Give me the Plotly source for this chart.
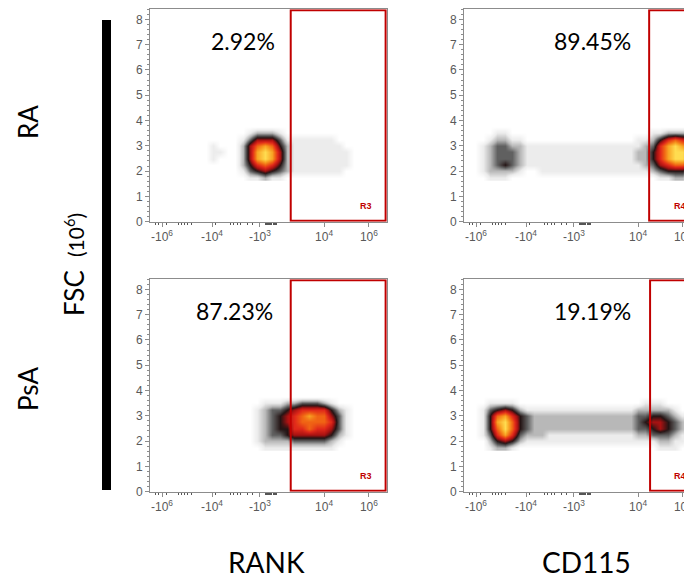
import plotly.graph_objects as go

# ---------------- data ----------------
FSC_ROWS = [1.75, 2.0, 2.25, 2.5, 2.75, 3.0, 3.25, 3.5, 3.75]
CH_BINS = [16, 48, 80, 112, 144, 176, 208, 240, 272, 304, 336, 368, 400, 432, 464, 496,
           528, 560, 592, 624, 656, 688, 720, 752, 784, 816, 848, 880, 912, 944, 976, 1008]

X_TICK_CH = [52, 268, 475, 752, 946]
X_TICK_TEXT = ["-10<sup>6</sup>", "-10<sup>4</sup>", "-10<sup>3</sup>", "10<sup>4</sup>", "10<sup>6</sup>"]
X_MINOR_CH = [22, 35, 73, 121, 138, 151, 164, 181, 281, 346, 359, 376, 389, 423, 441,
              497, 502, 507, 512, 517, 522, 527, 532, 537, 542, 547]
Y_TICKS = [0, 1, 2, 3, 4, 5, 6, 7, 8]

ROW_LABELS = ["RA", "PsA"]
COL_LABELS = ["RANK", "CD115"]
PERCENTS = ["2.92%", "89.45%", "87.23%", "19.19%"]
PERCENT_CH = [402, 557, 367, 557]
GATE_NAMES = ["R3", "R4", "R3", "R4"]
GATE_START_CH = [608, 800, 608, 804]

# density levels (0 = empty ... 9 = densest), rows = FSC_ROWS, cols = CH_BINS
DENSITY_RA_RANK = [
    [0,0,0,0,0,0,0,0,0,0, 0,0,0,1,1,2,1,1,0,0, 0,0,0,0,0,0,0,0,0,0, 0,0],
    [0,0,0,0,0,0,0,0,0,0, 0,0,1,3,4,5,4,3,2,1, 1,1,1,1,1,1,0,0,0,0, 0,0],
    [0,0,0,0,0,0,0,0,0,0, 0,0,2,4,6,7,6,4,2,1, 1,1,1,1,1,1,1,0,0,0, 0,0],
    [0,0,0,0,0,0,0,0,1,0, 0,0,2,5,8,9,8,5,2,1, 1,1,1,1,1,1,1,0,0,0, 0,0],
    [0,0,0,0,0,0,0,0,1,1, 0,0,2,5,8,9,8,5,2,1, 1,1,1,1,1,1,1,0,0,0, 0,0],
    [0,0,0,0,0,0,0,0,1,0, 0,0,2,5,7,8,7,4,2,1, 1,1,1,1,1,1,0,0,0,0, 0,0],
    [0,0,0,0,0,0,0,0,0,0, 0,0,1,3,5,5,5,3,1,1, 1,1,1,1,1,0,0,0,0,0, 0,0],
    [0,0,0,0,0,0,0,0,0,0, 0,0,0,1,2,2,2,1,0,0, 0,0,0,0,0,0,0,0,0,0, 0,0],
    [0,0,0,0,0,0,0,0,0,0, 0,0,0,0,0,0,0,0,0,0, 0,0,0,0,0,0,0,0,0,0, 0,0],
]
DENSITY_RA_CD115 = [
    [0,0,0,1,1,1,0,0,0,0, 0,0,0,0,0,0,0,0,0,0, 0,0,0,0,0,0,1,1,2,2, 1,1],
    [0,0,1,2,2,2,2,1,0,0, 1,1,1,1,1,1,1,1,1,1, 1,1,1,1,1,2,3,4,4,4, 3,3],
    [0,0,1,2,3,4,3,2,1,1, 1,1,1,1,1,1,1,1,1,1, 1,1,1,1,2,3,5,6,7,7, 6,5],
    [0,0,1,2,3,3,3,2,1,1, 1,1,1,1,1,1,1,1,1,1, 1,1,1,2,2,4,6,8,9,9, 8,6],
    [0,0,1,2,3,3,3,2,1,1, 1,1,1,1,1,1,1,1,1,1, 1,1,1,2,2,4,6,8,9,9, 8,6],
    [0,0,1,2,3,3,2,2,1,1, 1,1,1,1,1,1,1,1,1,1, 1,1,1,1,2,3,6,8,9,8, 7,6],
    [0,0,0,1,2,2,1,1,0,0, 0,0,0,0,0,0,0,0,0,0, 0,0,0,1,1,2,4,6,7,6, 5,4],
    [0,0,0,0,1,1,0,0,0,0, 0,0,0,0,0,0,0,0,0,0, 0,0,0,0,0,1,1,2,2,2, 2,1],
    [0,0,0,0,0,0,0,0,0,0, 0,0,0,0,0,0,0,0,0,0, 0,0,0,0,0,0,0,0,0,0, 0,0],
]
DENSITY_PSA_RANK = [
    [0,0,0,0,0,0,0,0,0,0, 0,0,0,0,0,1,1,1,1,1, 1,1,1,1,1,0,0,0,0,0, 0,0],
    [0,0,0,0,0,0,0,0,0,0, 0,0,0,0,1,2,2,2,2,3, 3,3,3,3,2,1,0,0,0,0, 0,0],
    [0,0,0,0,0,0,0,0,0,0, 0,0,0,0,1,2,3,3,4,5, 5,5,5,5,4,2,1,0,0,0, 0,0],
    [0,0,0,0,0,0,0,0,0,0, 0,0,0,0,1,2,3,4,4,6, 6,7,6,6,5,3,1,0,0,0, 0,0],
    [0,0,0,0,0,0,0,0,0,0, 0,0,0,0,1,2,3,4,5,6, 7,7,7,7,6,3,1,0,0,0, 0,0],
    [0,0,0,0,0,0,0,0,0,0, 0,0,0,0,1,2,3,4,5,6, 7,8,7,7,5,3,1,0,0,0, 0,0],
    [0,0,0,0,0,0,0,0,0,0, 0,0,0,0,1,2,3,3,4,5, 6,6,6,6,4,2,1,0,0,0, 0,0],
    [0,0,0,0,0,0,0,0,0,0, 0,0,0,0,0,1,1,1,2,2, 3,3,3,2,1,0,0,0,0,0, 0,0],
    [0,0,0,0,0,0,0,0,0,0, 0,0,0,0,0,0,0,0,0,0, 0,0,0,0,0,0,0,0,0,0, 0,0],
]
DENSITY_PSA_CD115 = [
    [0,0,0,1,2,2,1,0,0,0, 0,0,0,0,0,0,0,0,0,0, 0,0,0,0,0,0,1,1,1,0, 0,0],
    [0,0,0,2,4,5,4,2,1,1, 1,1,1,1,1,1,1,1,1,1, 1,1,1,1,1,1,2,2,1,1, 0,0],
    [0,0,1,3,6,8,6,3,2,2, 2,1,1,1,1,1,1,1,1,1, 1,1,1,2,2,3,3,3,2,1, 1,0],
    [0,0,1,4,7,9,7,4,3,2, 2,2,2,2,2,2,2,2,2,2, 2,2,2,3,3,4,5,4,3,2, 1,0],
    [0,0,1,4,8,9,7,4,3,2, 2,2,2,2,2,2,2,2,2,2, 2,2,2,3,4,5,5,4,3,2, 1,0],
    [0,0,1,4,7,8,6,4,3,2, 2,2,2,2,2,2,2,2,2,2, 2,2,2,3,3,4,4,3,2,1, 1,0],
    [0,0,1,3,4,5,4,2,1,1, 1,1,1,1,1,1,1,1,1,1, 1,1,1,2,2,2,2,2,1,0, 0,0],
    [0,0,0,1,1,1,1,0,0,0, 0,0,0,0,0,0,0,0,0,0, 0,0,0,0,1,1,1,0,0,0, 0,0],
    [0,0,0,0,0,0,0,0,0,0, 0,0,0,0,0,0,0,0,0,0, 0,0,0,0,0,0,0,0,0,0, 0,0],
]
DENSITIES = [DENSITY_RA_RANK, DENSITY_RA_CD115, DENSITY_PSA_RANK, DENSITY_PSA_CD115]

# ---------------- styling ----------------
W, H = 692, 578
OFF = 8  # default page margin of the html body
LEVEL_COLORS = ["#ffffff", "#ececec", "#b8b8b8", "#606060", "#241414",
                "#a81212", "#e0281a", "#f06414", "#f8a424", "#ffdc50"]
COLORSCALE = [[i / 9, c] for i, c in enumerate(LEVEL_COLORS)]
GATE_RED = "#c00000"
AX_GRAY = "#8c8c8c"
TXT_FONT = "Lato"
TICK_FONT = dict(family="Liberation Sans", size=12, color="#595959")


def px(v):  # page x pixel -> paper
    return (v - OFF) / W


def py(v):  # page y pixel -> paper
    return 1 - (v - OFF) / H


PX_PER_CH = 237 / 1024
col_dom = [[px(150), px(387)], [px(464), 1.0]]
col_xmax = [1024, (W + OFF - 464) / PX_PER_CH]
row_dom = [[py(221.7), py(9.2)], [py(491.7), py(279.2)]]
Y_MAX = 8.4

fig = go.Figure()
layout = dict(
    width=W, height=H, margin=dict(l=0, r=0, t=0, b=0, autoexpand=False),
    paper_bgcolor="white", plot_bgcolor="white", showlegend=False,
)
shapes, annotations = [], []

for p in range(4):
    r, c = divmod(p, 2)
    sfx = "" if p == 0 else str(p + 1)
    xa, ya = "x" + sfx, "y" + sfx
    fig.add_trace(go.Heatmap(
        x=CH_BINS, y=FSC_ROWS, z=DENSITIES[p], zmin=0, zmax=9,
        colorscale=COLORSCALE, zsmooth="best", showscale=False,
        hoverinfo="skip", xaxis=xa, yaxis=ya))
    layout["xaxis" + sfx] = dict(
        domain=col_dom[c], range=[0, col_xmax[c]], anchor=ya, automargin=False,
        showgrid=False, zeroline=False, showline=True, linecolor=AX_GRAY,
        linewidth=1, mirror=True,
        tickmode="array", tickvals=X_TICK_CH, ticktext=X_TICK_TEXT,
        ticks="outside", ticklen=4, tickcolor=AX_GRAY, tickfont=TICK_FONT,
        minor=dict(tickmode="array", tickvals=X_MINOR_CH, ticks="outside",
                   ticklen=2, tickcolor="#555555"),
        fixedrange=True)
    layout["yaxis" + sfx] = dict(
        domain=row_dom[r], range=[0, Y_MAX], anchor=xa, automargin=False,
        showgrid=False, zeroline=False, showline=True, linecolor=AX_GRAY,
        linewidth=1, mirror=True,
        tickmode="array", tickvals=Y_TICKS,
        ticks="outside", ticklen=4, tickcolor=AX_GRAY, tickfont=TICK_FONT,
        minor=dict(dtick=0.2, ticks="outside", ticklen=2, tickcolor=AX_GRAY),
        fixedrange=True)
    # gate
    shapes.append(dict(type="rect", xref=xa, yref=ya,
                       x0=GATE_START_CH[p], x1=1018, y0=0.04, y1=Y_MAX - 0.04,
                       line=dict(color=GATE_RED, width=2), fillcolor="rgba(0,0,0,0)",
                       layer="above"))
    annotations.append(dict(xref=xa, yref=ya, x=935, y=0.62, text="<b>%s</b>" % GATE_NAMES[p],
                            showarrow=False, xanchor="center", yanchor="middle",
                            font=dict(family="Liberation Sans", size=9, color=GATE_RED)))
    annotations.append(dict(xref=xa, yref=ya, x=PERCENT_CH[p], y=7.14, text=PERCENTS[p],
                            showarrow=False, xanchor="center", yanchor="middle",
                            font=dict(family=TXT_FONT, size=23, color="black")))

# black bar
shapes.append(dict(type="rect", xref="paper", yref="paper",
                   x0=px(102), x1=px(111), y0=py(490), y1=py(20),
                   line=dict(width=0), fillcolor="black"))


def label(x, y, text, size, angle=0):
    return dict(xref="paper", yref="paper", x=px(x), y=py(y), text=text,
                textangle=angle, showarrow=False, xanchor="center", yanchor="middle",
                font=dict(family=TXT_FONT, size=size, color="black"))


annotations += [
    label(28, 122, ROW_LABELS[0], 26, -90),
    label(28, 389, ROW_LABELS[1], 26, -90),
    label(74, 293, "FSC", 26, -90),
    label(74, 235, "(10<sup>6</sup>)", 21, -90),
    label(266, 562, COL_LABELS[0], 28),
    label(586, 562, COL_LABELS[1], 28),
]

layout["shapes"] = shapes
layout["annotations"] = annotations
fig.update_layout(**layout)
fig.write_html("out.html")
